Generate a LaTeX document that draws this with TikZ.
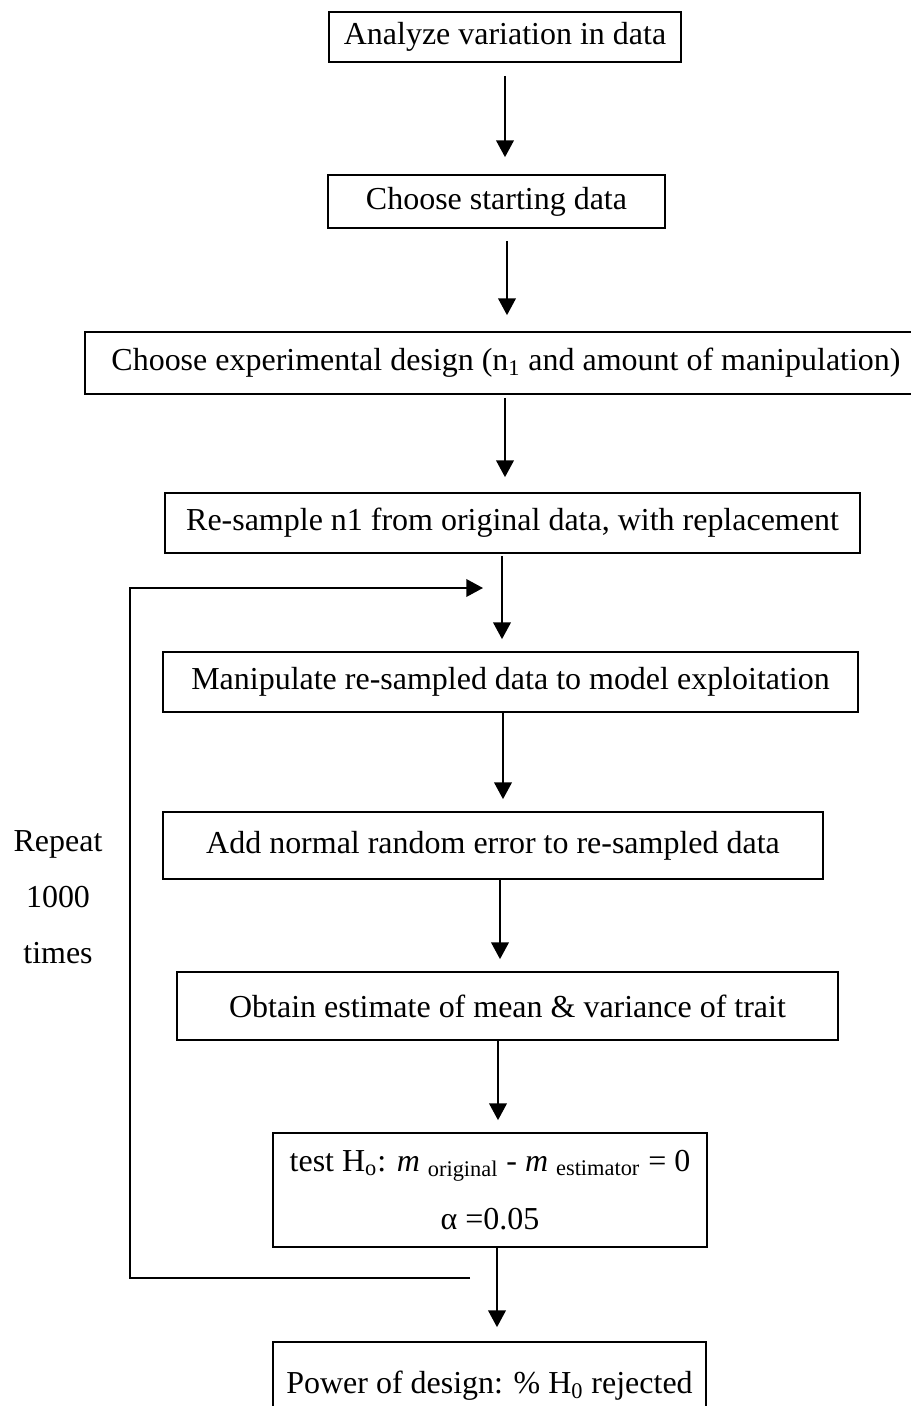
\documentclass[tikz,border=0pt]{standalone}
\usepackage{fontspec}
\setmainfont{Liberation Serif}
\usetikzlibrary{arrows.meta}

\begin{document}
\begin{tikzpicture}[x=0.02cm,y=-0.02cm,
	every node/.style={font=\fontsize{18.2}{31.7}\selectfont},
	box/.style={draw,line width=1pt,inner sep=0pt},
	flow/.style={line width=1pt,-{Triangle[length=9.5pt,width=10pt]}},]

\useasboundingbox (0,0) rectangle (911,1406);

\node[box,minimum width=7.04cm,minimum height=1cm] (ana) at (505,37) {Analyze variation in data};
\node[box,minimum width=6.74cm,minimum height=1.06cm] (start) at (496.5,201.5) {Choose starting data};
\node[box,minimum width=16.84cm,minimum height=1.24cm] (design) at (506,363) {Choose experimental design (n\textsubscript{1} and amount of manipulation)};
\node[box,minimum width=13.9cm,minimum height=1.2cm] (resamp) at (512.5,523) {Re-sample n1 from original data, with replacement};
\node[box,minimum width=13.9cm,minimum height=1.2cm] (manip) at (510.5,682) {Manipulate re-sampled data to model exploitation};
\node[box,minimum width=13.2cm,minimum height=1.34cm] (noise) at (493,845.5) {Add normal random error to re-sampled data};
\node[box,minimum width=13.22cm,minimum height=1.36cm] (est) at (507.5,1006) {Obtain estimate of mean \& variance of trait};
\node[box,minimum width=8.68cm,minimum height=2.28cm,align=center,font=\fontsize{18.2}{33.4}\selectfont] (test) at (490,1190)
    {test H\textsubscript{o}: \textit{m} \textsubscript{original} - \textit{m} \textsubscript{estimator} = 0\\ α =0.05};
\node[box,minimum width=8.66cm,minimum height=1.76cm] (power) at (489.5,1386) {Power of design: \% H\textsubscript{0} rejected};
\node[align=center] (rep) at (58,897) {Repeat\\1000\\times};

\draw[flow,shorten <=0.26cm,shorten >=0.34cm] (ana.south) -- (ana.south |- start.north);
\draw[flow,shorten <=0.24cm,shorten >=0.32cm] ([xshift=0.21cm]start.south) -- ([xshift=0.21cm]start.south |- design.north);
\draw[flow,shorten <=0.06cm,shorten >=0.3cm] ([xshift=-0.02cm]design.south) -- ([xshift=-0.02cm]design.south |- resamp.north);
\draw[flow,shorten <=0.04cm,shorten >=0.24cm] ([xshift=-0.21cm]resamp.south) -- ([xshift=-0.21cm]resamp.south |- manip.north);
\draw[flow,shorten >=0.24cm] ([xshift=-0.15cm]manip.south) -- ([xshift=-0.15cm]manip.south |- noise.north);
\draw[flow,shorten >=0.24cm] ([xshift=0.14cm]noise.south) -- ([xshift=0.14cm]noise.south |- est.north);
\draw[flow,shorten >=0.24cm] ([xshift=-0.19cm]est.south) -- ([xshift=-0.19cm]est.south |- test.north);
\draw[flow,shorten >=0.28cm] ([xshift=0.14cm]test.south) -- ([xshift=0.14cm]test.south |- power.north);

\coordinate (back) at (470,1278);
\coordinate (loopx) at (130,0);
\coordinate (into) at (483,588);
\draw[flow] (back) -| (loopx |- into) -- (into);
\end{tikzpicture}
\end{document}
